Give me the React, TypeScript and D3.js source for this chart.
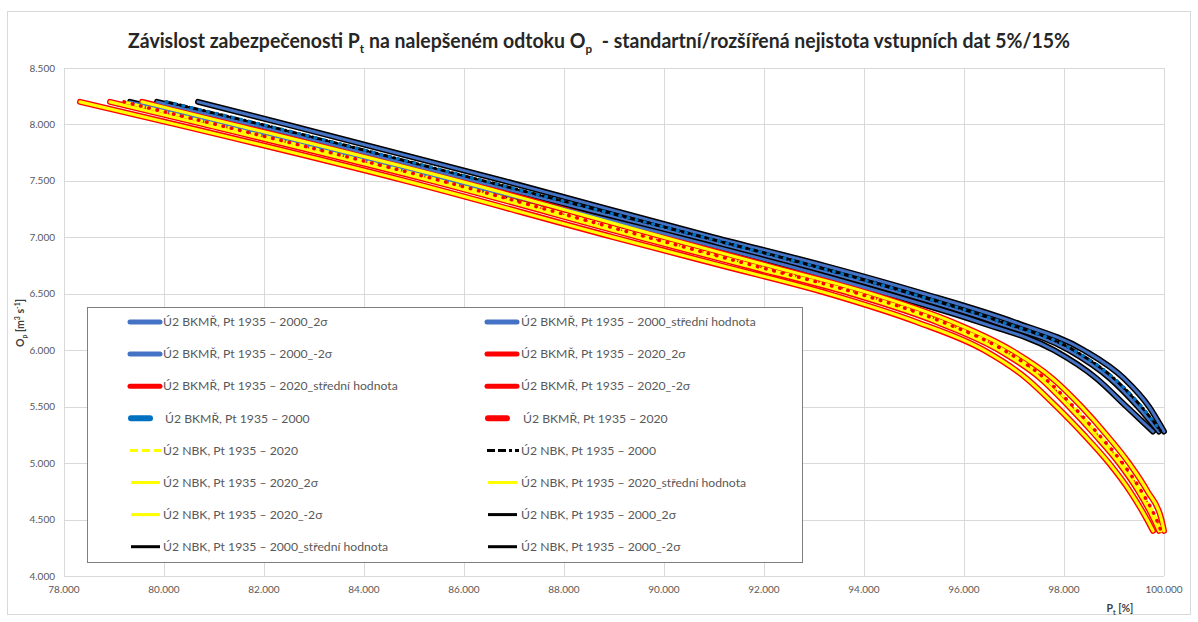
import * as d3 from "d3";
import React from "react";

// O_p levels (m3/s) at which the curves were read
const oLevels2020 = [8.2, 8.0, 7.5, 7.0, 6.75, 6.5, 6.25, 6.0, 5.75, 5.5, 5.25, 5.0, 4.75, 4.5, 4.4];
const oLevels2000 = [8.2, 8.0, 7.5, 7.0, 6.75, 6.5, 6.25, 6.0, 5.75, 5.5, 5.28];

// P_t [%] for each curve at those levels
const p2020Minus = [78.32, 80.24, 84.83, 89.0, 91.15, 93.3, 95.05, 96.4, 97.25, 97.85, 98.4, 98.9, 99.32, 99.66, 99.78];
const p2020Mean = [78.92, 80.8, 85.35, 89.5, 91.62, 93.75, 95.45, 96.7, 97.53, 98.1, 98.62, 99.1, 99.49, 99.8, 99.9];
const p2020Hist = [79.2, 81.04, 85.55, 89.68, 91.79, 93.9, 95.57, 96.8, 97.62, 98.19, 98.7, 99.17, 99.55, 99.85, 99.94];
const p2020Plus = [79.56, 81.4, 85.9, 90.0, 92.08, 94.15, 95.77, 96.95, 97.77, 98.35, 98.85, 99.3, 99.67, 99.95, 100.0];

const p2000Minus = [79.32, 81.2, 85.7, 90.3, 92.45, 94.45, 96.3, 97.8, 98.65, 99.25, 99.78];
const p2000Mean = [79.86, 81.75, 86.2, 90.65, 92.8, 94.8, 96.62, 98.1, 98.92, 99.48, 99.9];
const p2000Hist = [80.05, 81.95, 86.4, 90.8, 92.95, 94.95, 96.75, 98.2, 99.0, 99.55, 99.94];
const p2000Plus = [80.68, 82.45, 86.8, 91.0, 93.2, 95.2, 97.0, 98.4, 99.2, 99.7, 100.0];

const xTicks = [78, 80, 82, 84, 86, 88, 90, 92, 94, 96, 98, 100];
const yTicks = [4, 4.5, 5, 5.5, 6, 6.5, 7, 7.5, 8, 8.5];

const BLUE = "#4472C4";
const BLUE_DARK = "#0070C0";
const RED = "#FF0000";
const YELLOW = "#FFFF00";
const BLACK = "#000000";

// legend order (row by row, two columns)
const series = [
  { label: "Ú2 BKMŘ, Pt 1935 – 2000_2σ", color: BLUE, o: oLevels2000, p: p2000Plus, w: 3, kind: "solid" },
  { label: "Ú2 BKMŘ, Pt 1935 – 2000_střední hodnota", color: BLUE, o: oLevels2000, p: p2000Mean, w: 3, kind: "solid" },
  { label: "Ú2 BKMŘ, Pt 1935 – 2000_-2σ", color: BLUE, o: oLevels2000, p: p2000Minus, w: 3, kind: "solid" },
  { label: "Ú2 BKMŘ, Pt 1935 – 2020_2σ", color: RED, o: oLevels2020, p: p2020Plus, w: 6, kind: "solid" },
  { label: "Ú2 BKMŘ, Pt 1935 – 2020_střední hodnota", color: RED, o: oLevels2020, p: p2020Mean, w: 6, kind: "solid" },
  { label: "Ú2 BKMŘ, Pt 1935 – 2020_-2σ", color: RED, o: oLevels2020, p: p2020Minus, w: 6, kind: "solid" },
  { label: "Ú2 BKMŘ, Pt 1935 – 2000", color: BLUE_DARK, o: oLevels2000, p: p2000Hist, w: 3, kind: "pill" },
  { label: "Ú2 BKMŘ, Pt 1935 – 2020", color: RED, o: oLevels2020, p: p2020Hist, w: 3, kind: "pill" },
  { label: "Ú2 NBK, Pt 1935 – 2020", color: YELLOW, o: oLevels2020, p: p2020Hist, w: 3, kind: "dash" },
  { label: "Ú2 NBK, Pt 1935 – 2000", color: BLACK, o: oLevels2000, p: p2000Hist, w: 3, kind: "dashdot" },
  { label: "Ú2 NBK, Pt 1935 – 2020_2σ", color: YELLOW, o: oLevels2020, p: p2020Plus, w: 3.2, kind: "solid" },
  { label: "Ú2 NBK, Pt 1935 – 2020_střední hodnota", color: YELLOW, o: oLevels2020, p: p2020Mean, w: 3.2, kind: "solid" },
  { label: "Ú2 NBK, Pt 1935 – 2020_-2σ", color: YELLOW, o: oLevels2020, p: p2020Minus, w: 3.2, kind: "solid" },
  { label: "Ú2 NBK, Pt 1935 – 2000_2σ", color: BLACK, o: oLevels2000, p: p2000Plus, w: 6, kind: "solid" },
  { label: "Ú2 NBK, Pt 1935 – 2000_střední hodnota", color: BLACK, o: oLevels2000, p: p2000Mean, w: 6, kind: "solid" },
  { label: "Ú2 NBK, Pt 1935 – 2000_-2σ", color: BLACK, o: oLevels2000, p: p2000Minus, w: 6, kind: "solid" },
];

// thick outlines first, thin cores and dashes on top
const drawOrder = [13, 14, 15, 3, 4, 5, 0, 1, 2, 10, 11, 12, 8, 9, 6, 7];

const W = 1198;
const H = 622;
const left = 64, right = 1164, top = 68, bottom = 576;

export default function App() {
  const x = d3.scaleLinear().domain([78, 100]).range([left, right]);
  const y = d3.scaleLinear().domain([4, 8.5]).range([bottom, top]);
  const fmt = d3.format(".3f");

  const line = d3
    .line<[number, number]>()
    .x((d) => x(d[0]))
    .y((d) => y(d[1]))
    .curve(d3.curveMonotoneX);

  const dashFor = (kind: string) => {
    if (kind === "pill") return "0.5 8";
    if (kind === "dash") return "8 4";
    if (kind === "dashdot") return "7 3 1 3";
    return undefined;
  };

  const font = "Lato, 'Open Sans', sans-serif";
  const legX = [128, 485];
  const legTextX = [163, 521];
  const legY0 = 322;
  const legStep = 32.1;

  return (
    <svg width={W} height={H} style={{ position: "absolute", left: 0, top: 0, background: "#fff" }}>
      <rect x={7.5} y={11.5} width={1183} height={603} fill="#fff" stroke="#d9d9d9" />

      {/* title */}
      <text x={128} y={48} fontFamily={font} fontSize={20} fontWeight="bold" fill="#262626" textLength={942} lengthAdjust="spacingAndGlyphs">
        Závislost zabezpečenosti P
        <tspan dy={5} fontSize={12}>t</tspan>
        <tspan dy={-5} dx={5}>na nalepšeném odtoku O</tspan>
        <tspan dy={5} fontSize={12}>p</tspan>
        <tspan dy={-5} dx={10}>{"- standartní/rozšířená nejistota vstupních dat 5%/15%"}</tspan>
      </text>

      {/* grid */}
      {xTicks.map((t) => (
        <line key={"gx" + t} x1={x(t) + 0.5} x2={x(t) + 0.5} y1={top} y2={bottom} stroke="#d9d9d9" />
      ))}
      {yTicks.map((t) => (
        <line key={"gy" + t} x1={left} x2={right} y1={Math.round(y(t)) + 0.5} y2={Math.round(y(t)) + 0.5} stroke="#d9d9d9" />
      ))}

      {/* tick labels */}
      {yTicks.map((t) => (
        <text key={"ty" + t} x={55} y={y(t)} dy="0.35em" textAnchor="end" fontFamily={font} fontSize={10} fill="#595959">
          {fmt(t)}
        </text>
      ))}
      {xTicks.map((t) => (
        <text key={"tx" + t} x={x(t)} y={593} textAnchor="middle" fontFamily={font} fontSize={10} fill="#595959">
          {fmt(t)}
        </text>
      ))}

      {/* axis titles */}
      <text transform="translate(24,323) rotate(-90)" textAnchor="middle" fontFamily={font} fontSize={10.5} fontWeight="bold" fill="#404040">
        O<tspan dy={3} fontSize={7}>p</tspan>
        <tspan dy={-3}> [m</tspan>
        <tspan dy={-4} fontSize={7}>3</tspan>
        <tspan dy={4}> s</tspan>
        <tspan dy={-4} fontSize={7}>-1</tspan>
        <tspan dy={4}>]</tspan>
      </text>
      <text x={1120} y={612} textAnchor="middle" fontFamily={font} fontSize={10.5} fontWeight="bold" fill="#404040">
        P<tspan dy={3} fontSize={7}>t</tspan>
        <tspan dy={-3}> [%]</tspan>
      </text>

      {/* curves */}
      {drawOrder.map((i) => {
        const s = series[i];
        const pts = s.p.map((p, k) => [p, s.o[k]] as [number, number]);
        const isPill = s.kind === "pill";
        return (
          <path
            key={"c" + i}
            d={line(pts) || ""}
            fill="none"
            stroke={s.color}
            strokeWidth={isPill ? 3.5 : s.w}
            strokeDasharray={dashFor(s.kind)}
            strokeLinecap="round"
            strokeLinejoin="round"
          />
        );
      })}

      {/* legend */}
      <rect x={87.5} y={307.5} width={715} height={255} fill="#fff" stroke="#7f7f7f" />
      {series.map((s, i) => {
        const col = i % 2;
        const row = Math.floor(i / 2);
        const ly = legY0 + row * legStep;
        const x0 = legX[col];
        let sw;
        if (s.kind === "pill") {
          sw = <line x1={x0 + 3} x2={x0 + 22} y1={ly} y2={ly} stroke={s.color} strokeWidth={6} strokeLinecap="round" />;
        } else if (s.kind === "dash") {
          sw = <line x1={x0 + 2} x2={x0 + 33} y1={ly} y2={ly} stroke={s.color} strokeWidth={3} strokeDasharray="8 4" />;
        } else if (s.kind === "dashdot") {
          sw = <line x1={x0 + 2} x2={x0 + 34} y1={ly} y2={ly} stroke={s.color} strokeWidth={3} strokeDasharray="8 3 8 3 3 3" />;
        } else {
          const thick = s.color === BLUE || s.color === RED;
          sw = <line x1={x0 + (thick ? 2 : 3)} x2={x0 + 32} y1={ly} y2={ly} stroke={s.color} strokeWidth={thick ? 5 : 3} strokeLinecap={thick ? "round" : "butt"} />;
        }
        return (
          <g key={"l" + i}>
            {sw}
            <text x={legTextX[col] + (s.kind === "pill" ? 2 : 0)} y={ly} dy="0.35em" fontFamily={font} fontSize={12.2} fill="#595959">
              {s.label}
            </text>
          </g>
        );
      })}
    </svg>
  );
}
